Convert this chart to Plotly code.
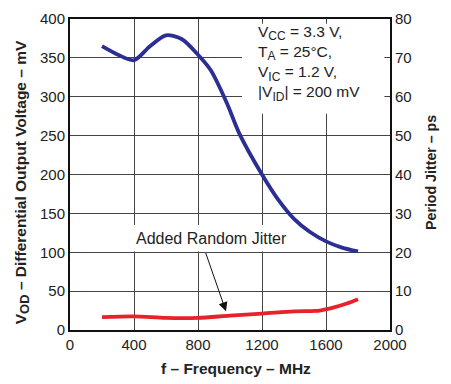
import plotly.graph_objects as go

# Differential output voltage vs frequency (left axis, mV)
freq_vod = [200, 300, 400, 500, 600, 700, 800, 880, 980, 1060, 1200, 1300, 1400, 1500, 1600, 1700, 1800]
vod_mv = [365, 354, 347, 365, 379, 374, 354, 334, 292, 252, 200, 168, 143, 126, 114, 106, 101]

# Added random jitter vs frequency (right axis, ps)
freq_jit = [200, 400, 600, 800, 1000, 1200, 1400, 1560, 1650, 1730, 1800]
jitter_ps = [3.3, 3.5, 3.1, 3.1, 3.7, 4.2, 4.8, 5.0, 5.8, 6.8, 7.9]

x_ticks = [0, 400, 800, 1200, 1600, 2000]
left_ticks = [0, 50, 100, 150, 200, 250, 300, 350, 400]
right_ticks = [0, 10, 20, 30, 40, 50, 60, 70, 80]

FONT = "Liberation Sans, Arial, sans-serif"
TXT = "#222"


def sub(s, size=12):
    return "<sub><span style='font-size:%spx'>%s</span></sub>" % (size, s)


fig = go.Figure()
fig.add_trace(go.Scatter(x=freq_vod, y=vod_mv, mode="lines",
                         line=dict(color="#2b2e92", width=3.8, shape="spline", smoothing=0.8),
                         showlegend=False))
fig.add_trace(go.Scatter(x=freq_jit, y=jitter_ps, mode="lines", yaxis="y2",
                         line=dict(color="#e8212b", width=3.8, shape="spline", smoothing=0.8),
                         showlegend=False))

# white panels behind the text blocks hide the grid
fig.add_shape(type="rect", xref="x", yref="y", x0=1075, x1=1965, y0=278, y1=394,
              fillcolor="white", line=dict(width=0), layer="between")
fig.add_shape(type="rect", xref="x", yref="y", x0=188, x1=1425, y0=101, y1=135,
              fillcolor="white", line=dict(width=0), layer="between")

fig.add_annotation(x=1162, y=397, xref="x", yref="y", xanchor="left", yanchor="top",
                   align="left", showarrow=False,
                   text="V" + sub("CC") + " = 3.3 V,<br>T" + sub("A") + " = 25°C,<br>"
                        "V" + sub("IC") + " = 1.2 V,<br>|V" + sub("ID") + "| = 200 mV",
                   font=dict(family=FONT, size=15.5, color=TXT))
fig.add_annotation(x=887, y=118, xref="x", yref="y", showarrow=False,
                   text="Added Random Jitter", font=dict(family=FONT, size=16, color=TXT))
fig.add_annotation(x=975, y=24, xref="x", yref="y", ax=845, ay=101, axref="x", ayref="y",
                   text="", showarrow=True, arrowhead=2, arrowsize=1.8, arrowwidth=1,
                   arrowcolor="#111")

# axis titles
fig.add_annotation(x=0.519, y=-0.125, xref="paper", yref="paper", showarrow=False,
                   xanchor="center", yanchor="middle",
                   text="<b>f – Frequency – MHz</b>",
                   font=dict(family=FONT, size=15.5, color=TXT))
fig.add_annotation(x=-0.15, y=0.475, xref="paper", yref="paper", showarrow=False,
                   xanchor="center", yanchor="middle", textangle=-90,
                   text="<b>V" + sub("<b>OD</b>", 13) + " – Differential Output Voltage – mV</b>",
                   font=dict(family=FONT, size=15.5, color=TXT))
fig.add_annotation(x=1.128, y=0.508, xref="paper", yref="paper", showarrow=False,
                   xanchor="center", yanchor="middle", textangle=-90,
                   text="<b>Period Jitter – ps</b>",
                   font=dict(family=FONT, size=14.2, color=TXT))

axis_common = dict(showline=True, linecolor="#111", linewidth=2,
                   ticks="", tickfont=dict(family=FONT, size=15, color=TXT),
                   zeroline=False)

fig.update_layout(
    width=451, height=384, margin=dict(l=70, r=61, t=10, b=54),
    plot_bgcolor="white", paper_bgcolor="white",
    xaxis=dict(range=[0, 2000], tickvals=x_ticks, showgrid=True, gridcolor="#444",
               gridwidth=1, mirror=True, **axis_common),
    yaxis=dict(range=[0, 400], tickvals=left_ticks, showgrid=True, gridcolor="#444",
               gridwidth=1, mirror=True, **axis_common),
    yaxis2=dict(range=[0, 80], tickvals=right_ticks, overlaying="y", side="right",
                showgrid=False, **axis_common),
)

fig.write_html("out.html")
